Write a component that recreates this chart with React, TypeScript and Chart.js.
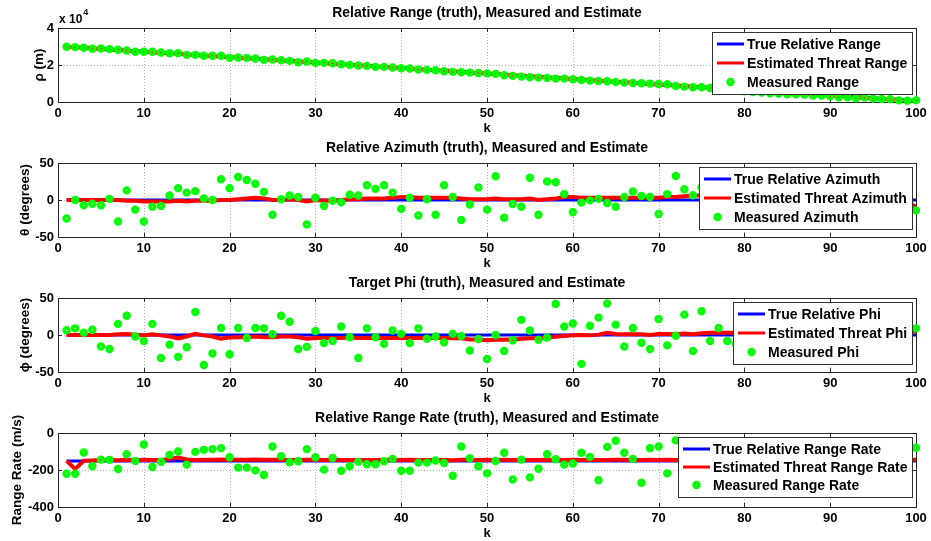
import React, { useEffect, useRef } from "react";
import { Chart, registerables } from "chart.js";
Chart.register(...registerables);

const FONT = '"Liberation Sans", Arial, Helvetica, sans-serif';
Chart.defaults.font.family = FONT;

// sample index k (categories)
const kValues = Array.from({ length: 100 }, (_, i) => i + 1);

// ---------- Relative range (m) ----------
const trueRange = [
  29900, 29604, 29308, 29012, 28716, 28420, 28124, 27828, 27532, 27236,
  26940, 26644, 26348, 26052, 25756, 25460, 25164, 24868, 24572, 24276,
  23980, 23684, 23388, 23092, 22796, 22500, 22204, 21908, 21612, 21316,
  21020, 20724, 20428, 20132, 19836, 19540, 19244, 18948, 18652, 18356,
  18060, 17764, 17468, 17172, 16876, 16580, 16284, 15988, 15692, 15396,
  15100, 14804, 14508, 14212, 13916, 13620, 13324, 13028, 12732, 12436,
  12140, 11844, 11548, 11252, 10956, 10660, 10364, 10068, 9772, 9476,
  9180, 8884, 8588, 8292, 7996, 7700, 7404, 7108, 6812, 6516,
  6220, 5924, 5628, 5332, 5036, 4740, 4444, 4148, 3852, 3556,
  3260, 2964, 2668, 2372, 2076, 1780, 1484, 1188, 892, 596,
];
const estRange = [
  29900, 29650, 29330, 28980, 28740, 28400, 28130, 27810, 27500, 27220,
  26950, 26630, 26330, 26060, 25740, 25450, 25170, 24860, 24560, 24250,
  23980, 23690, 23370, 23080, 22800, 22490, 22200, 21890, 21620, 21300,
  21030, 20720, 20420, 20120, 19840, 19530, 19230, 18950, 18640, 18350,
  18060, 17750, 17460, 17170, 16860, 16580, 16270, 15990, 15680, 15400,
  15100, 14790, 14510, 14200, 13920, 13610, 13330, 13020, 12740, 12430,
  12150, 11840, 11550, 11240, 10960, 10650, 10370, 10060, 9780, 9470,
  9190, 8870, 8590, 8280, 8000, 7690, 7410, 7100, 6820, 6510,
  6230, 5910, 5640, 5320, 5050, 4730, 4450, 4140, 3860, 3550,
  3270, 2950, 2680, 2360, 2090, 1770, 1500, 1180, 900, 590,
];
const measRange = [
  29840, 29660, 29300, 28750, 28930, 28570, 28210, 27850, 27130, 27130,
  27130, 26760, 26400, 26400, 25500, 25500, 24960, 24960, 24960, 23870,
  24050, 23870, 23510, 22790, 22970, 22600, 22240, 21520, 21880, 21160,
  21160, 20980, 20430, 20070, 19710, 19530, 18990, 18990, 18630, 18260,
  18080, 17540, 17360, 17180, 16640, 16280, 16050, 15900, 15700, 15450,
  15190, 14470, 14110, 13740, 13380, 13200, 13020, 12660, 12660, 12300,
  11940, 11570, 11390, 11210, 10850, 10490, 10310, 10130, 9950, 9770,
  9580, 8680, 8320, 7960, 7960, 7600, 7230, 6690, 6150, 5790,
  5420, 5060, 4700, 4520, 4160, 4160, 3980, 3440, 3440, 3070,
  2530, 2530, 1990, 2350, 1810, 1630, 1450, 900, 720, 900,
];

// ---------- Relative azimuth (deg) ----------
const trueAzimuth = [
  0, 0, 0, 0, 0, 0, 0, 0, 0, 0,
  0, 0, 0, 0, 0, 0, 0, 0, 0, 0,
  0, 0, 0, 0, 0, 0, 0, 0, 0, 0,
  0, 0, 0, 0, 0, 0, 0, 0, 0, 0,
  0, 0, 0, 0, 0, 0, 0, 0, 0, 0,
  0, 0, 0, 0, 0, 0, 0, 0, 0, 0,
  0, 0, 0, 0, 0, 0, 0, 0, 0, 0,
  0, 0, 0, 0, 0, 0, 0, 0, 0, 0,
  0, 0, 0, 0, 0, 0, 0, 0, 0, 0,
  0, 0, 0, 0, 0, 0, 0, 0, 0, 0,
];
const estAzimuth = [
  0, 0, 0, 0, 0, 0, 0, -1, -1, -2,
  -2, -2, -2, -1, -2, -1, -1, -1, 0, 0,
  1, 2, 3, 2, 0, 0, 1, 0, -2, 0,
  -1, -1, 0, 1, 1, 2, 2, 2, 3, 4,
  4, 3, 3, 3, 3, 3, 2, 1, 1, 1,
  2, 1, 1, 1, 2, 0, 1, 2, 4, 4,
  3, 3, 3, 3, 3, 3, 3, 3, 3, 3,
  4, 4, 5, 6, 6, 6, 6, 5, 5, 5,
  4, 4, 4, 3, 3, 3, 2, 2, 2, 1,
  1, 1, 0, 0, 0, -1, -1, -2, -3, -9,
];
const measAzimuth = [
  -25, 0, -7, -5, -7, 1.5, -29, 13, -13, -29,
  -9, -8, 6, 16, 10, 12, 2, 0, 28, 16,
  31, 27, 22, 11, -20, 1, 6, 4, -33, 3,
  -8, -1, -3, 7, 6, 20, 15, 20, 10, -12,
  3, -21, 1, -20, 20, 4, -27, -6, 17, -13,
  32, -24, -5.5, -9, 30, -20, 25, 24, 8, -16.5,
  -3.5, -0.5, 1.5, -4, -9, 4, 11.5, 5.5, 4, -19,
  8, 32.5, 14.5, 6.5, 17, 12, -8, 5, 22, -15,
  3, -10, 18, -4, 9, -22, 14, 0, -6, 25,
  -12, 7, -18, 10, 2, -9, 16, -3, -7, -14,
];

// ---------- Target phi (deg) ----------
const truePhi = [
  0, 0, 0, 0, 0, 0, 0, 0, 0, 0,
  0, 0, 0, 0, 0, 0, 0, 0, 0, 0,
  0, 0, 0, 0, 0, 0, 0, 0, 0, 0,
  0, 0, 0, 0, 0, 0, 0, 0, 0, 0,
  0, 0, 0, 0, 0, 0, 0, 0, 0, 0,
  0, 0, 0, 0, 0, 0, 0, 0, 0, 0,
  0, 0, 0, 0, 0, 0, 0, 0, 0, 0,
  0, 0, 0, 0, 0, 0, 0, 0, 0, 0,
  0, 0, 0, 0, 0, 0, 0, 0, 0, 0,
  0, 0, 0, 0, 0, 0, 0, 0, 0, 0,
];
const estPhi = [
  0, 0, 0, 0, 0, 0, 1, 1.5, 0.5, -0.5,
  1, -0.5, -2, -4.5, -2, 1.5, -0.5, -2, -5, -3.5,
  -3, -3, -2, -3, -3, -2, -2, -3, -5, -4,
  -4, -4, -4, -3.5, -4, -4, -4, -4, -4, -4,
  -4, -4, -4, -4, -4, -4.5, -4.5, -6, -6, -7,
  -6.5, -6, -6.5, -5, -4.5, -4.5, -3.5, -2.5, -1.5, -0.5,
  0, -0.5, 0.5, 3, 1.5, 1, 1, 1, 0, 1.5,
  1.5, 1, 2, 1, 2.5, 3, 3, 3, 3, 3,
  3, 3, 4, 4, 4, 3, 3, 3, 4, 4,
  4, 4, 4, 5, 5, 5, 4, 4, 4, 5,
];
const measPhi = [
  6.5, 9, 3, 7, -15.5, -19, 15, 26, -2, -8,
  15, -31, -13, -29.5, -16.5, 31, -40.5, -25, 9.5, -26,
  9.5, -4, 9.5, 9, 1, 26, 18, -19, -16, 5.5,
  -11, -8, 11.5, -3, -31, 9, -3, -12, 6, 1.5,
  -11, 9, -5, -2, -10, 1.5, -1.5, -21, -5.5, -32.5,
  0, -21.5, -7, 20.5, 6, -6.5, -3.5, 42, 11.5, 15.5,
  -39, 12.5, 23.5, 42.5, 14, -15.5, 9.5, -10.5, -19, 21.5,
  -14, -1, 27.5, -21.5, 32, -8, 9.5, -8, -12, 8,
  15, -5, 20, -18, 3, 11, -9, 25, -3, 6,
  -20, 14, -7, 0, 18, -14, 5, -25, 10, 9,
];

// ---------- Relative range rate (m/s) ----------
const trueRate = [
  -152, -152, -152, -152, -152, -152, -152, -152, -152, -152,
  -152, -152, -152, -152, -152, -152, -152, -152, -152, -152,
  -152, -152, -152, -152, -152, -152, -152, -152, -152, -152,
  -152, -152, -152, -152, -152, -152, -152, -152, -152, -152,
  -152, -152, -152, -152, -152, -152, -152, -152, -152, -152,
  -152, -152, -152, -152, -152, -152, -152, -152, -152, -152,
  -152, -152, -152, -152, -152, -152, -152, -152, -152, -152,
  -152, -152, -152, -152, -152, -152, -152, -152, -152, -152,
  -152, -152, -152, -152, -152, -152, -152, -152, -152, -152,
  -152, -152, -152, -152, -152, -152, -152, -152, -152, -152,
];
const estRate = [
  -150, -195, -150, -148, -146, -146, -147, -145, -146, -144,
  -146, -146, -141, -133, -143, -146, -145, -144, -143, -144,
  -145, -145, -143, -145, -144, -145, -146, -146, -144, -145,
  -146, -145, -146, -146, -146, -146, -146, -145, -145, -146,
  -144, -146, -146, -146, -146, -147, -145, -145, -146, -145,
  -146, -145, -146, -145, -146, -146, -145, -146, -146, -145,
  -146, -145, -146, -146, -145, -145, -146, -146, -145, -146,
  -145, -146, -145, -146, -145, -145, -146, -145, -146, -145,
  -145, -146, -145, -145, -146, -145, -146, -145, -145, -146,
  -145, -146, -145, -145, -146, -145, -145, -146, -145, -145,
];
const measRate = [
  -220, -220, -105, -180, -144, -145, -195, -115, -151, -62,
  -184, -155, -118, -100, -171, -102, -91, -87, -82, -131,
  -187, -187, -202, -227, -73, -125, -158, -153, -87, -131,
  -198, -135, -204, -180, -156, -169, -169, -153, -140, -204,
  -204, -160, -160, -149, -162, -231, -73, -136, -180, -218,
  -151, -107, -251, -144, -240, -193, -115, -142, -171, -165,
  -107, -129, -255, -75, -42, -107, -140, -269, -82, -73,
  -218, -40, -120, -185, -95, -160, -210, -140, -75, -170,
  -130, -195, -105, -150, -230, -115, -165, -90, -200, -140,
  -125, -180, -100, -215, -155, -135, -190, -110, -160, -80,
];

const rangeLegend = ["True Relative Range", "Estimated Threat Range", "Measured Range"];
const azimuthLegend = ["True Relative Azimuth", "Estimated Threat Azimuth", "Measured Azimuth"];
const phiLegend = ["True Relative Phi", "Estimated Threat Phi", "Measured Phi"];
const rateLegend = ["True Relative Range Rate", "Estimated Threat Range Rate", "Measured Range Rate"];

const titles = [
  "Relative Range (truth), Measured and Estimate",
  "Relative Azimuth (truth), Measured and Estimate",
  "Target Phi (truth), Measured and Estimate",
  "Relative Range Rate (truth), Measured and Estimate",
];
const yTitles = ["ρ (m)", "θ (degrees)", "ϕ (degrees)", "Range Rate (m/s)"];

type Panel = {
  title: string;
  yTitle: string;
  yTitleX: number;
  yMin: number;
  yMax: number;
  yStep: number;
  yDiv: number;
  exponent: string | null;
  truth: number[];
  est: number[];
  meas: number[];
  legend: string[];
  legendBottom: number;
};

const panels: Panel[] = [
  { title: titles[0], yTitle: yTitles[0], yTitleX: 39, yMin: 0, yMax: 40000, yStep: 20000, yDiv: 10000, exponent: "4", truth: trueRange, est: estRange, meas: measRange, legend: rangeLegend, legendBottom: 94 },
  { title: titles[1], yTitle: yTitles[1], yTitleX: 25, yMin: -50, yMax: 50, yStep: 50, yDiv: 1, exponent: null, truth: trueAzimuth, est: estAzimuth, meas: measAzimuth, legend: azimuthLegend, legendBottom: 94 },
  { title: titles[2], yTitle: yTitles[2], yTitleX: 25, yMin: -50, yMax: 50, yStep: 50, yDiv: 1, exponent: null, truth: truePhi, est: estPhi, meas: measPhi, legend: phiLegend, legendBottom: 94 },
  { title: titles[3], yTitle: yTitles[3], yTitleX: 17, yMin: -400, yMax: 0, yStep: 200, yDiv: 1, exponent: null, truth: trueRate, est: estRate, meas: measRate, legend: rateLegend, legendBottom: 92 },
];

const toPoints = (vals: number[]) => vals.map((v, i) => ({ x: kValues[i], y: v }));

const GREEN = "#00ff00";
const BLUE = "#0000ff";
const RED = "#ff0000";
const AXIS = "#262626";

function makeDecor(p: Panel) {
  return {
    id: "matlabDecor",
    beforeDatasetsDraw(chart: any) {
      const { ctx, chartArea: a, scales } = chart;
      const xs = scales.x;
      const ys = scales.y;
      ctx.save();
      // dotted grid
      ctx.lineWidth = 1;
      ctx.strokeStyle = "#b0b0b0";
      ctx.setLineDash([1, 2]);
      for (const t of xs.ticks) {
        const px = Math.round(xs.getPixelForValue(t.value)) + 0.5;
        if (px <= a.left + 1 || px >= a.right - 1) continue;
        ctx.beginPath();
        ctx.moveTo(px, a.top);
        ctx.lineTo(px, a.bottom);
        ctx.stroke();
      }
      for (const t of ys.ticks) {
        const py = Math.round(ys.getPixelForValue(t.value)) + 0.5;
        if (py <= a.top + 1 || py >= a.bottom - 1) continue;
        ctx.beginPath();
        ctx.moveTo(a.left, py);
        ctx.lineTo(a.right, py);
        ctx.stroke();
      }
      ctx.setLineDash([]);
      // inward tick marks
      ctx.strokeStyle = AXIS;
      const tl = 4;
      for (const t of xs.ticks) {
        const px = Math.round(xs.getPixelForValue(t.value)) + 0.5;
        ctx.beginPath();
        ctx.moveTo(px, a.bottom);
        ctx.lineTo(px, a.bottom - tl);
        ctx.moveTo(px, a.top);
        ctx.lineTo(px, a.top + tl);
        ctx.stroke();
      }
      for (const t of ys.ticks) {
        const py = Math.round(ys.getPixelForValue(t.value)) + 0.5;
        ctx.beginPath();
        ctx.moveTo(a.left, py);
        ctx.lineTo(a.left + tl, py);
        ctx.moveTo(a.right, py);
        ctx.lineTo(a.right - tl, py);
        ctx.stroke();
      }
      // box
      ctx.strokeRect(
        Math.round(a.left) + 0.5,
        Math.round(a.top) + 0.5,
        Math.round(a.right - a.left),
        Math.round(a.bottom - a.top)
      );
      ctx.restore();
    },
    afterDraw(chart: any) {
      const { ctx, chartArea: a } = chart;
      ctx.save();
      ctx.fillStyle = "#000";
      // title
      ctx.font = `bold 14px ${FONT}`;
      ctx.textAlign = "center";
      ctx.textBaseline = "middle";
      ctx.fillText(p.title, (a.left + a.right) / 2, 13);
      // x title
      ctx.font = `bold 13px ${FONT}`;
      ctx.fillText("k", (a.left + a.right) / 2, 128);
      // y title
      ctx.save();
      ctx.translate(p.yTitleX, (a.top + a.bottom) / 2);
      ctx.rotate(-Math.PI / 2);
      ctx.font = `bold 13.5px ${FONT}`;
      ctx.fillText(p.yTitle, 0, 0);
      ctx.restore();
      // exponent
      if (p.exponent) {
        ctx.textAlign = "left";
        ctx.font = `bold 12px ${FONT}`;
        ctx.fillText("x 10", 59, 20);
        const w = ctx.measureText("x 10").width;
        ctx.font = `bold 9px ${FONT}`;
        ctx.fillText(p.exponent, 59 + w + 1, 13);
      }
      // legend
      ctx.font = `bold 14px ${FONT}`;
      const tw = Math.max(...p.legend.map((s) => ctx.measureText(s).width));
      const right = 912;
      const top = 32;
      const bottom = p.legendBottom;
      const left = Math.round(right - tw - 40);
      ctx.fillStyle = "#fff";
      ctx.fillRect(left, top, right - left, bottom - top);
      ctx.strokeStyle = "#333";
      ctx.lineWidth = 1;
      ctx.strokeRect(left + 0.5, top + 0.5, right - left, bottom - top);
      const rowGap = (bottom - top - 24) / 2;
      const rows = [top + 12, top + 12 + rowGap, top + 12 + 2 * rowGap];
      const lx0 = left + 5;
      const lx1 = left + 32;
      ctx.lineWidth = 3;
      ctx.strokeStyle = BLUE;
      ctx.beginPath();
      ctx.moveTo(lx0, rows[0]);
      ctx.lineTo(lx1, rows[0]);
      ctx.stroke();
      ctx.strokeStyle = RED;
      ctx.beginPath();
      ctx.moveTo(lx0, rows[1]);
      ctx.lineTo(lx1, rows[1]);
      ctx.stroke();
      ctx.strokeStyle = GREEN;
      ctx.lineWidth = 3.6;
      ctx.beginPath();
      ctx.arc((lx0 + lx1) / 2, rows[2], 2.4, 0, Math.PI * 2);
      ctx.stroke();
      ctx.fillStyle = "#000";
      ctx.textAlign = "left";
      ctx.textBaseline = "middle";
      p.legend.forEach((s, i) => ctx.fillText(s, left + 35, rows[i] + 1));
      ctx.restore();
    },
  };
}

function PanelChart({ panel, height }: { panel: Panel; height: number }) {
  const ref = useRef<HTMLCanvasElement>(null);
  useEffect(() => {
    if (!ref.current) return;
    const chart = new Chart(ref.current, {
      type: "line",
      data: {
        datasets: [
          {
            label: panel.legend[2],
            data: toPoints(panel.meas),
            showLine: false,
            pointRadius: 2.4,
            pointBorderWidth: 3.6,
            pointBorderColor: GREEN,
            pointBackgroundColor: "rgba(0,0,0,0)",
            order: 1,
            clip: false as any,
          },
          {
            label: panel.legend[1],
            data: toPoints(panel.est),
            borderColor: RED,
            borderWidth: 4,
            pointRadius: 0,
            tension: 0,
            order: 2,
          },
          {
            label: panel.legend[0],
            data: toPoints(panel.truth),
            borderColor: BLUE,
            borderWidth: 3,
            pointRadius: 0,
            tension: 0,
            order: 3,
          },
        ],
      },
      options: {
        animation: false,
        responsive: false,
        events: [],
        layout: { padding: { top: 28, right: 15, left: 0, bottom: 0 } },
        plugins: { legend: { display: false }, tooltip: { enabled: false }, title: { display: false } },
        scales: {
          x: {
            type: "linear",
            min: 0,
            max: 100,
            grid: { display: false, drawTicks: false },
            border: { display: false },
            ticks: {
              stepSize: 10,
              color: "#000",
              padding: 4,
              maxRotation: 0,
              font: { size: 13, weight: "bold", family: FONT },
            },
            afterFit: (s: any) => {
              s.height = height - 102;
            },
          },
          y: {
            type: "linear",
            min: panel.yMin,
            max: panel.yMax,
            grid: { display: false, drawTicks: false },
            border: { display: false },
            ticks: {
              stepSize: panel.yStep,
              color: "#000",
              padding: 4,
              font: { size: 13, weight: "bold", family: FONT },
              callback: (v: any) => String(Number(v) / panel.yDiv),
            },
            afterFit: (s: any) => {
              s.width = 58;
            },
          },
        },
      } as any,
      plugins: [makeDecor(panel)],
    });
    return () => chart.destroy();
  }, [panel, height]);
  return (
    <canvas
      ref={ref}
      width={931}
      height={height}
      style={{ display: "block", width: 931, height }}
    />
  );
}

export default function App() {
  return (
    <div
      style={{
        position: "fixed",
        left: 0,
        top: 0,
        width: 931,
        height: 541,
        background: "#fff",
      }}
    >
      {panels.map((p, i) => (
        <PanelChart key={i} panel={p} height={i === 3 ? 136 : 135} />
      ))}
    </div>
  );
}
